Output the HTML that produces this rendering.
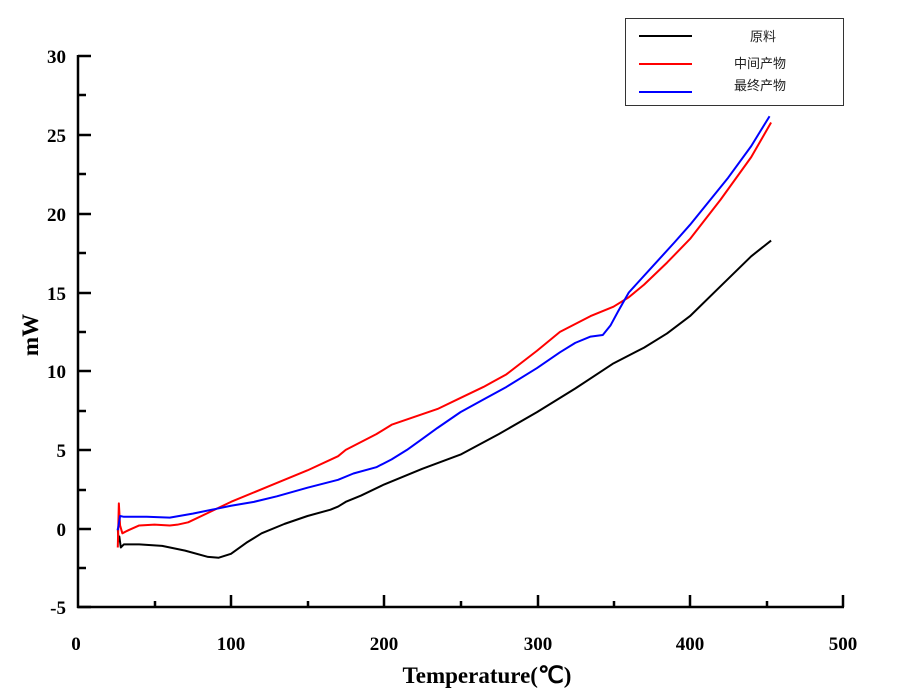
<!DOCTYPE html>
<html><head><meta charset="utf-8"><style>
body{margin:0;background:#fff;width:900px;height:695px;overflow:hidden}
svg text{font-family:"Liberation Serif",serif;font-weight:bold}
.lg{font-family:"Liberation Sans","Noto Sans CJK SC",sans-serif;font-weight:normal;font-size:13px}
</style></head><body>
<svg width="900" height="695" xmlns="http://www.w3.org/2000/svg">
<g stroke="#000" stroke-width="2.5" fill="none">
<line x1="78" y1="55" x2="78" y2="608"/>
<line x1="77" y1="607" x2="844" y2="607"/>
<path d="M78 56h13M78 135h13M78 214h13M78 293h13M78 371h13M78 450h13M78 529h13M78 607h13"/>
<path d="M78 95h8M78 174h8M78 253h8M78 332h8M78 411h8M78 490h8M78 568h8"/>
<path d="M231 607v-12M384 607v-12M538 607v-12M690 607v-12M843 607v-12"/>
<path d="M155 607v-6M308 607v-6M461 607v-6M614 607v-6M767 607v-6"/>
</g>
<g font-size="19" text-anchor="end">
<text x="66" y="63">30</text><text x="66" y="142">25</text><text x="66" y="221">20</text>
<text x="66" y="300">15</text><text x="66" y="378">10</text><text x="66" y="457">5</text>
<text x="66" y="536">0</text><text x="66" y="614">-5</text>
</g>
<g font-size="19" text-anchor="middle">
<text x="76" y="650">0</text><text x="231" y="650">100</text><text x="384" y="650">200</text>
<text x="538" y="650">300</text><text x="690" y="650">400</text><text x="843" y="650">500</text>
</g>
<text x="487" y="683" font-size="23" text-anchor="middle">Temperature(℃)</text>
<text transform="translate(38,335) rotate(-90)" font-size="23" text-anchor="middle">mW</text>
<g transform="translate(78,528.6) scale(1.53,-15.74)" fill="none" stroke-width="2" stroke-linejoin="round">
<polyline vector-effect="non-scaling-stroke" stroke="#000" points="26,0 26.5,-0.8 27,-0.5 28,-1.2 30,-1 40,-1 55,-1.1 70,-1.4 85,-1.8 92,-1.85 100,-1.6 110,-0.9 120,-0.3 135,0.3 150,0.8 165,1.2 170,1.4 175,1.7 185,2.1 200,2.8 225,3.8 250,4.7 275,6 300,7.4 325,8.9 350,10.5 370,11.5 385,12.4 400,13.5 420,15.4 440,17.3 453,18.3"/>
<polyline vector-effect="non-scaling-stroke" stroke="#f00" points="26,-1.2 26.7,1.6 27.5,0.2 29,-0.3 33,-0.1 40,0.2 50,0.25 60,0.2 65,0.25 72,0.4 85,1 100,1.7 125,2.7 150,3.7 170,4.6 175,5 195,6 205,6.6 220,7.1 235,7.6 250,8.3 265,9 280,9.8 300,11.3 315,12.5 325,13 335,13.5 345,13.9 350,14.1 360,14.7 370,15.5 385,16.9 400,18.4 420,20.9 440,23.6 453,25.8"/>
<polyline vector-effect="non-scaling-stroke" stroke="#00f" points="26,-0.1 27.5,0.8 30,0.75 45,0.75 60,0.7 75,0.95 90,1.25 100,1.45 115,1.7 130,2.05 150,2.6 170,3.1 180,3.5 195,3.9 205,4.4 215,5 225,5.7 235,6.4 250,7.4 265,8.2 280,9 300,10.2 315,11.2 325,11.8 335,12.2 343,12.3 348,12.9 353,13.8 360,15 375,16.6 390,18.2 400,19.3 425,22.3 440,24.3 452,26.2"/>
</g>
<rect x="625.5" y="18.5" width="218" height="87" fill="#fff" stroke="#333" stroke-width="1"/>
<g stroke-width="2"><line x1="639" y1="36" x2="692" y2="36" stroke="#000"/>
<line x1="639" y1="64" x2="692" y2="64" stroke="#f00"/>
<line x1="639" y1="92" x2="692" y2="92" stroke="#00f"/></g>
<g class="lg" text-anchor="middle" fill="#222">
<text class="lg" x="763" y="41">原料</text>
<text class="lg" x="760" y="68">中间产物</text>
<text class="lg" x="760" y="90">最终产物</text>
</g>
</svg>
</body></html>
